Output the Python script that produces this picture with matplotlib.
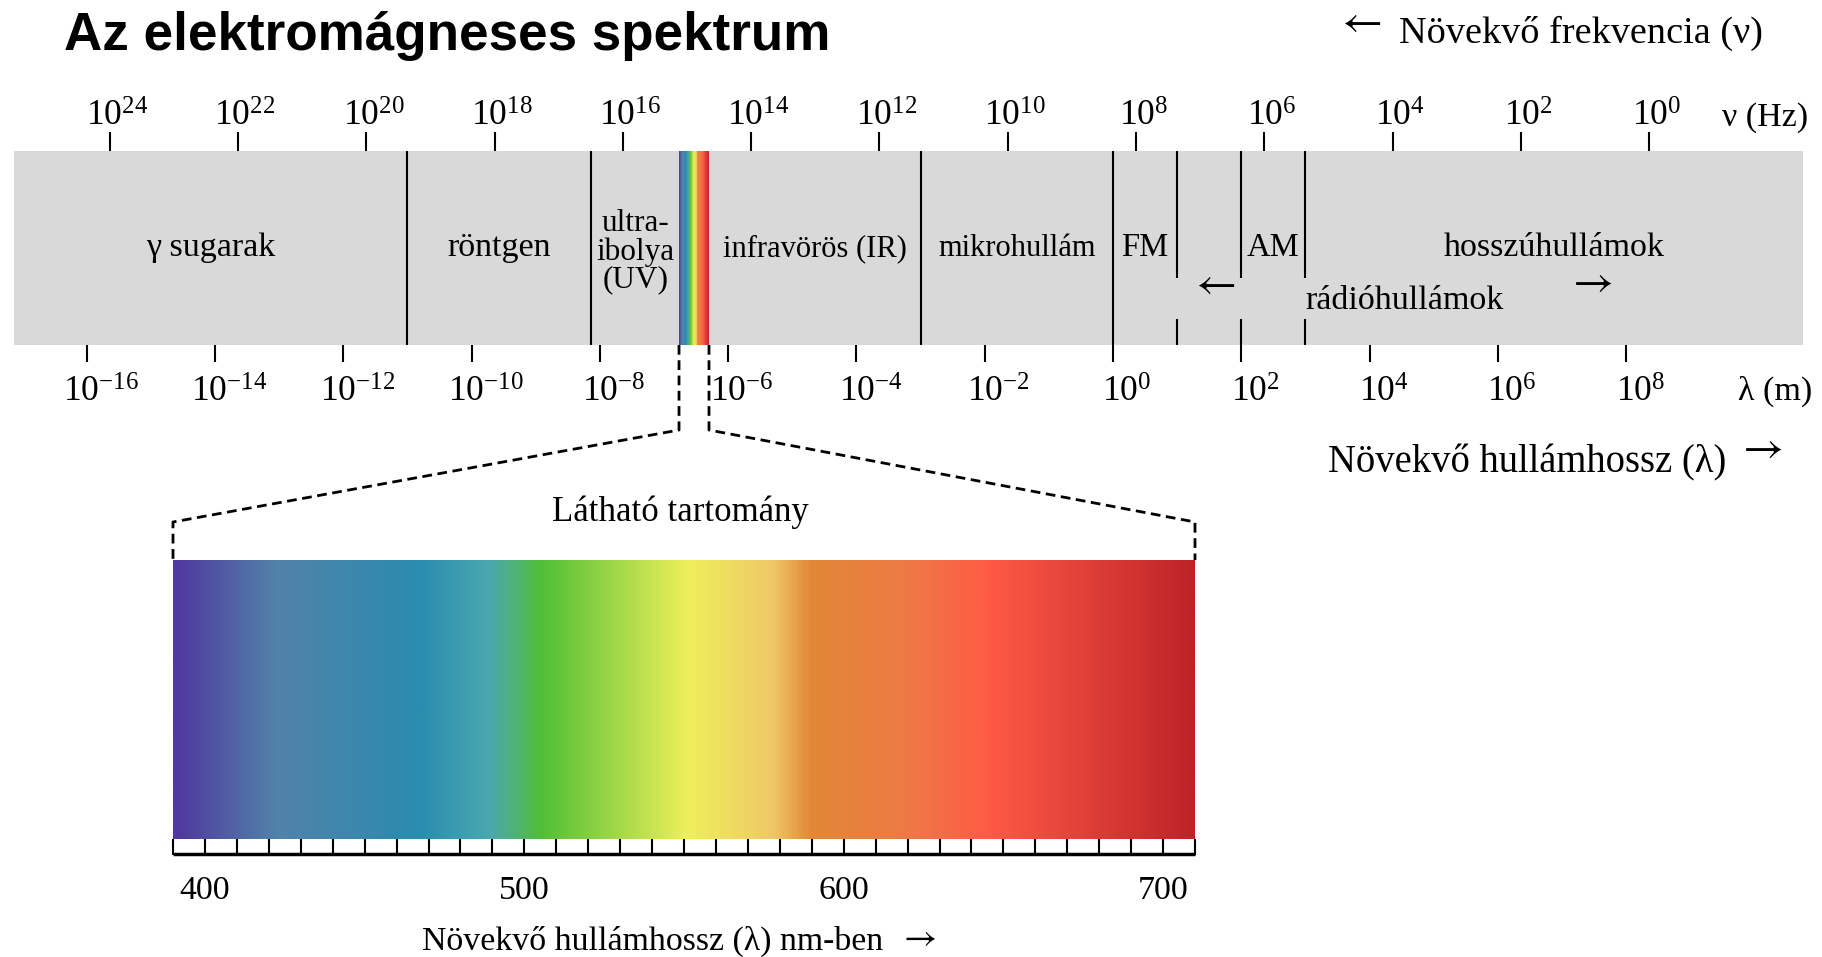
import numpy as np
import matplotlib

matplotlib.use("Agg")
import matplotlib.pyplot as plt
from matplotlib.colors import LinearSegmentedColormap
from matplotlib.patches import Rectangle

W, H, DPI = 1822, 957, 100
plt.rcParams.update({"font.family": ["Liberation Serif", "DejaVu Serif"],
                     "mathtext.fontset": "custom",
                     "mathtext.rm": "Liberation Serif",
                     "mathtext.it": "Liberation Serif:italic"})

# --- data ------------------------------------------------------------------
lam_exp = np.arange(-16, 9, 2)          # bottom axis, log10 wavelength (m)
freq_exp = np.arange(24, -1, -2)        # top axis, log10 frequency (Hz)
FREQ_ZERO = 8.36                        # log10 lambda where nu = 1 Hz, as drawn

band_span = [-17.13, 10.76]             # log10 lambda covered by the grey band
full_bounds = [-11.0, -8.13, -3.0, 0.0]
radio_bounds = [1.0, 2.0, 3.0]
visible_band = [-6.765, -6.298]         # exaggerated rainbow strip

region_names = ["γ sugarak", "röntgen", "ultra-\nibolya\n(UV)", "infravörös (IR)",
                "mikrohullám", "FM", "AM", "hosszúhullámok"]
region_lo = [-17.13, -11.0, -8.13, -6.298, -3.0, 0.0, 2.0, 3.0]
region_hi = [-11.0, -8.13, -6.765, -3.0, 0.0, 1.0, 3.0, 10.76]

vis_nm = [390, 422, 466, 489, 505, 551, 578, 590, 620, 646, 710]
vis_colors = ["#50389f", "#5282aa", "#2a8caf", "#4ba8af", "#50be37", "#eef05a",
              "#f0c868", "#e18737", "#ee7a45", "#ff5a46", "#be2328"]
vis_range = [390, 710]
vis_step = 10
vis_labels = [400, 500, 600, 700]

# --- style / layout (pixels of the 1822x957 canvas) -------------------------
PX0, PXD = 1113, 64.15                  # x pixel of lambda=1 m, pixels per decade
BAND_TOP, BAND_BOT = 151, 345
GREY = "#d9d9d9"
LW = 1.5
ARROW = dict(family="STIXGeneral", fontsize=32)
region_fs = [24.5, 24.5, 22.5, 22, 22, 23.5, 23.5, 24.5]


def lx(px):
    return (px - PX0) / PXD


fig = plt.figure(figsize=(W / DPI, H / DPI), dpi=DPI)
ax = fig.add_axes([0, 0, 1, 1])
ax.axis("off")

# grey band + visible strip
ax.add_patch(Rectangle((band_span[0], BAND_TOP), band_span[1] - band_span[0],
                       BAND_BOT - BAND_TOP, color=GREY, lw=0, zorder=1))
span = np.linspace(0, 1, 600)[None, :]
pos = [(v - vis_range[0]) / (vis_range[1] - vis_range[0]) for v in vis_nm]
cmap = LinearSegmentedColormap.from_list("vis", list(zip(pos, vis_colors)))
ax.imshow(span, cmap=cmap, aspect="auto", interpolation="bilinear", zorder=2,
          extent=(visible_band[0], visible_band[1], BAND_BOT, BAND_TOP))

# boundaries
ax.vlines(full_bounds, BAND_TOP, BAND_BOT, color="k", lw=LW, zorder=3)
ax.vlines(radio_bounds, BAND_TOP, 278, color="k", lw=LW, zorder=3)
ax.vlines(radio_bounds, 319, BAND_BOT, color="k", lw=LW, zorder=3)

# ticks
ax.vlines(lam_exp, BAND_BOT, 362, color="k", lw=LW)
ax.vlines(FREQ_ZERO - freq_exp, 132, BAND_TOP, color="k", lw=LW)
for p in lam_exp:
    ax.annotate(f"$10^{{{p}}}$", xy=(p, 402), xytext=(14, 0), textcoords="offset pixels",
                ha="center", va="baseline", fontsize=25.5)
for p in freq_exp:
    ax.annotate(f"$10^{{{p}}}$", xy=(FREQ_ZERO - p, 126), xytext=(7, 0),
                textcoords="offset pixels", ha="center", va="baseline", fontsize=25.5)
ax.text(lx(1808), 126, "ν (Hz)", ha="right", va="baseline", fontsize=24.5)
ax.text(lx(1812), 400, "λ (m)", ha="right", va="baseline", fontsize=24.5)

# region labels
for name, lo, hi, fs in zip(region_names, region_lo, region_hi, region_fs):
    x = (lo + hi) / 2
    if "\n" in name:
        ax.text(x, 252, name, ha="center", va="center", fontsize=fs, linespacing=0.95,
                zorder=4)
    else:
        ax.text(x, 256, name, ha="center", va="baseline", fontsize=fs, zorder=4)
ax.text(radio_bounds[2], 309, "rádióhullámok", ha="left", va="baseline", fontsize=24.5,
        zorder=4)
ax.text(lx(1216), 287, "←", ha="center", va="center", zorder=4, **ARROW)
ax.text(lx(1594), 285, "→", ha="center", va="center", zorder=4, **ARROW)

# headers
fig.text(64 / W, 1 - 50 / H, "Az elektromágneses spektrum", family="Liberation Sans",
         weight="bold", fontsize=38.2, va="baseline")
ax.text(lx(1362), 25, "←", ha="center", va="center", **ARROW)
ax.text(lx(1399), 43, "Növekvő frekvencia (ν)", ha="left", va="baseline", fontsize=27.5)
ax.text(lx(1726), 472, "Növekvő hullámhossz (λ)", ha="right", va="baseline", fontsize=27.8)
ax.text(lx(1763), 451, "→", ha="center", va="center", **ARROW)

ax.set_xlim(lx(0), lx(W))
ax.set_ylim(H, 0)

# --- visible range panel ---------------------------------------------------
P_LEFT, P_RIGHT = 173, 1195
P_TOP, P_GRAD, P_BOT = 560, 839, 855
vax = fig.add_axes([P_LEFT / W, 1 - P_BOT / H, (P_RIGHT - P_LEFT) / W, (P_BOT - P_TOP) / H])
vax.axis("off")
vax.imshow(span, cmap=cmap, aspect="auto", interpolation="bilinear",
           extent=(vis_range[0], vis_range[1], P_GRAD, P_TOP))
vax.vlines(np.arange(vis_range[0], vis_range[1] + 1, vis_step), P_GRAD, P_BOT,
           color="k", lw=LW, clip_on=False)
vax.hlines(P_BOT - 1, vis_range[0], vis_range[1], color="k", lw=2.5, clip_on=False)
for v in vis_labels:
    vax.text(v, 899, str(v), ha="center", va="baseline", fontsize=24.5)
vax.text(549, 521, "Látható tartomány", ha="center", va="baseline", fontsize=25)
vax.text(468, 950, "Növekvő hullámhossz (λ) nm-ben", ha="left", va="baseline",
         fontsize=24.4)
vax.text(624, 939, "→", ha="center", va="center", family="STIXGeneral", fontsize=26)
vax.set_xlim(*vis_range)
vax.set_ylim(P_BOT, P_TOP)

# dashed zoom bracket from the rainbow strip to the panel corners
to_ax = ax.transData.inverted()
for strip_x, nm in zip(visible_band, vis_range):
    cx = to_ax.transform(vax.transData.transform((nm, P_TOP)))[0]
    ax.plot([strip_x, strip_x, cx, cx], [BAND_BOT, 430, 522, P_TOP], color="k", lw=2.0,
            ls=(0, (3.5, 2.0)))

fig.savefig("out.png", dpi=DPI)
